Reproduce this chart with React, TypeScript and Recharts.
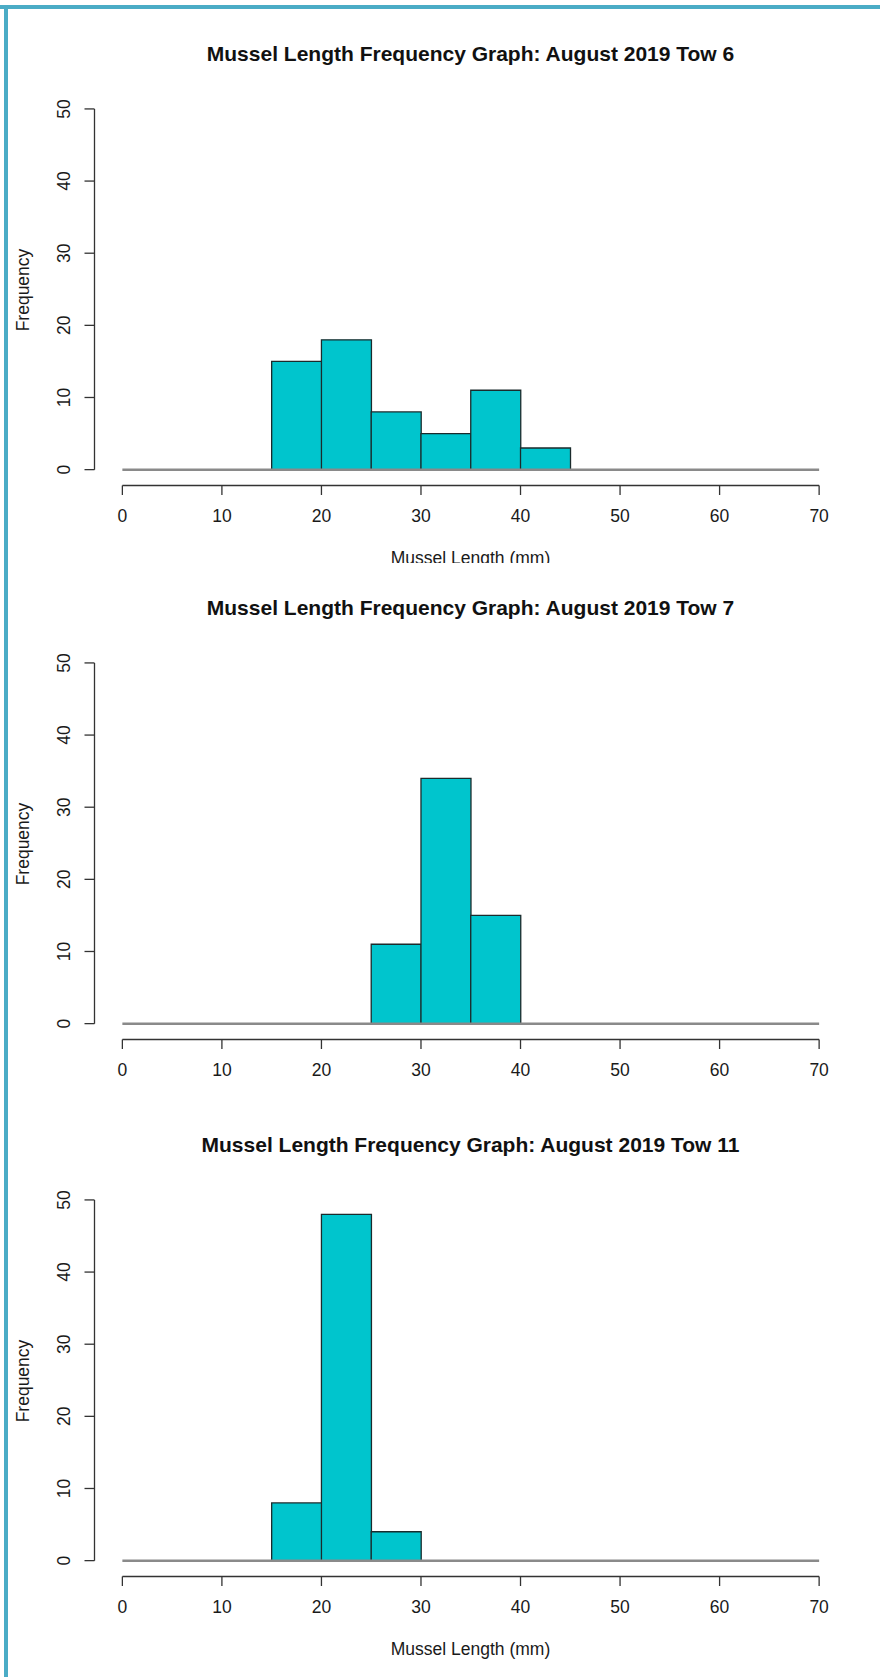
import React from 'react';
import { ComposedChart, Bar, XAxis, YAxis, ReferenceLine } from 'recharts';

// ---- data (bin midpoints in mm, counts per 5 mm bin) ----
const tow6Bins = [17.5, 22.5, 27.5, 32.5, 37.5, 42.5];
const tow6Counts = [15, 18, 8, 5, 11, 3];
const tow7Bins = [27.5, 32.5, 37.5];
const tow7Counts = [11, 34, 15];
const tow11Bins = [17.5, 22.5, 27.5];
const tow11Counts = [8, 48, 4];
const xTicks = [0, 10, 20, 30, 40, 50, 60, 70];
const yTicks = [0, 10, 20, 30, 40, 50];
const titles = [
  'Mussel Length Frequency Graph: August 2019 Tow 6',
  'Mussel Length Frequency Graph: August 2019 Tow 7',
  'Mussel Length Frequency Graph: August 2019 Tow 11',
];
const xLabel = 'Mussel Length (mm)';
const yLabel = 'Frequency';

const FONT = '"Liberation Sans", Arial, Helvetica, sans-serif';
const XDOMAIN: [number, number] = [-2.8, 72.8];
const YDOMAIN: [number, number] = [-2.2, 52];
const AXIS = '#333333';
const TICKFONT = 17.5;

function XTick(props: any) {
  const { x, y, payload } = props;
  return (
    <text x={x} y={y + 27} textAnchor="middle" fontSize={TICKFONT} fontFamily={FONT} fill="#1a1a1a">
      {payload.value}
    </text>
  );
}

function YTick(props: any) {
  const { x, y, payload } = props;
  const cx = x - 20.5;
  return (
    <text
      x={0}
      y={0}
      dy="0.35em"
      transform={`translate(${cx},${y}) rotate(-90)`}
      textAnchor="middle"
      fontSize={TICKFONT}
      fontFamily={FONT}
      fill="#1a1a1a"
    >
      {payload.value}
    </text>
  );
}

function Histogram({
  title,
  bins,
  counts,
  showXLabel,
}: {
  title: string;
  bins: number[];
  counts: number[];
  showXLabel: boolean;
}) {
  const data = bins.map((b, i) => ({ mid: b, count: counts[i] }));
  return (
    <div style={{ position: 'absolute', left: 0, top: 0, width: 880, height: 580, background: '#fff' }}>
      <ComposedChart
        width={880}
        height={580}
        data={data}
        margin={{ top: 94.5, right: 33, bottom: 24.5, left: 34.5 }}
        barCategoryGap={0}
        barGap={0}
      >
        <XAxis
          type="number"
          dataKey="mid"
          domain={XDOMAIN}
          ticks={xTicks}
          interval={0}
          allowDataOverflow
          axisLine={false}
          tickLine={{ stroke: AXIS, strokeWidth: 1.3 }}
          tickSize={9.5}
          tickMargin={0}
          height={70}
          tick={<XTick />}
        />
        <YAxis
          type="number"
          domain={YDOMAIN}
          ticks={yTicks}
          interval={0}
          allowDataOverflow
          axisLine={false}
          tickLine={{ stroke: AXIS, strokeWidth: 1.3 }}
          tickSize={10}
          tickMargin={0}
          width={60}
          tick={<YTick />}
        />
        <Bar dataKey="count" fill="#00C5CD" stroke="#1b2b2c" strokeWidth={1.3} isAnimationActive={false} />
        <ReferenceLine
          segment={[{ x: 0, y: 0 }, { x: 70, y: 0 }]}
          stroke="#8a8a8a"
          strokeWidth={2.5}
          ifOverflow="visible"
        />
        <ReferenceLine
          segment={[{ x: 0, y: -2.2 }, { x: 70, y: -2.2 }]}
          stroke={AXIS}
          strokeWidth={1.3}
          ifOverflow="visible"
        />
        <ReferenceLine
          segment={[{ x: -2.8, y: 0 }, { x: -2.8, y: 50 }]}
          stroke={AXIS}
          strokeWidth={1.3}
          ifOverflow="visible"
        />
      </ComposedChart>
      <div
        style={{
          position: 'absolute',
          left: 470.5,
          top: 53,
          transform: 'translate(-50%,-50%)',
          whiteSpace: 'nowrap',
          fontFamily: FONT,
          fontWeight: 'bold',
          fontSize: 21,
          lineHeight: 1,
          color: '#111',
        }}
      >
        {title}
      </div>
      <div
        style={{
          position: 'absolute',
          left: 23.8,
          top: 290,
          transform: 'translate(-50%,-50%) rotate(-90deg)',
          whiteSpace: 'nowrap',
          fontFamily: FONT,
          fontSize: TICKFONT,
          lineHeight: 1,
          color: '#1a1a1a',
        }}
      >
        {yLabel}
      </div>
      {showXLabel && (
        <div
          style={{
            position: 'absolute',
            left: 470.5,
            top: 559,
            transform: 'translate(-50%,-50%)',
            whiteSpace: 'nowrap',
            fontFamily: FONT,
            fontSize: TICKFONT,
            lineHeight: 1,
            color: '#1a1a1a',
          }}
        >
          {xLabel}
        </div>
      )}
    </div>
  );
}

function Panel({ visTop, visBottom, frameTop, children }: any) {
  return (
    <div
      style={{
        position: 'absolute',
        left: 0,
        top: visTop,
        width: 880,
        height: visBottom - visTop,
        overflow: 'hidden',
      }}
    >
      <div style={{ position: 'absolute', left: 0, top: frameTop - visTop, width: 880, height: 580 }}>{children}</div>
    </div>
  );
}

export default function App() {
  return (
    <div
      style={{
        position: 'absolute',
        left: 0,
        top: 0,
        width: 880,
        height: 1677,
        background: '#fff',
        overflow: 'hidden',
      }}
    >
      <Panel visTop={0} visBottom={563} frameTop={0}>
        <Histogram title={titles[0]} bins={tow6Bins} counts={tow6Counts} showXLabel={true} />
      </Panel>
      <Panel visTop={563} visBottom={1091} frameTop={554}>
        <Histogram title={titles[1]} bins={tow7Bins} counts={tow7Counts} showXLabel={false} />
      </Panel>
      <Panel visTop={1091} visBottom={1677} frameTop={1091}>
        <Histogram title={titles[2]} bins={tow11Bins} counts={tow11Counts} showXLabel={true} />
      </Panel>
      <div style={{ position: 'absolute', left: 0, top: 5, width: 880, height: 4, background: '#4BACC6' }} />
      <div style={{ position: 'absolute', left: 4, top: 5, width: 4, height: 1672, background: '#4BACC6' }} />
    </div>
  );
}
